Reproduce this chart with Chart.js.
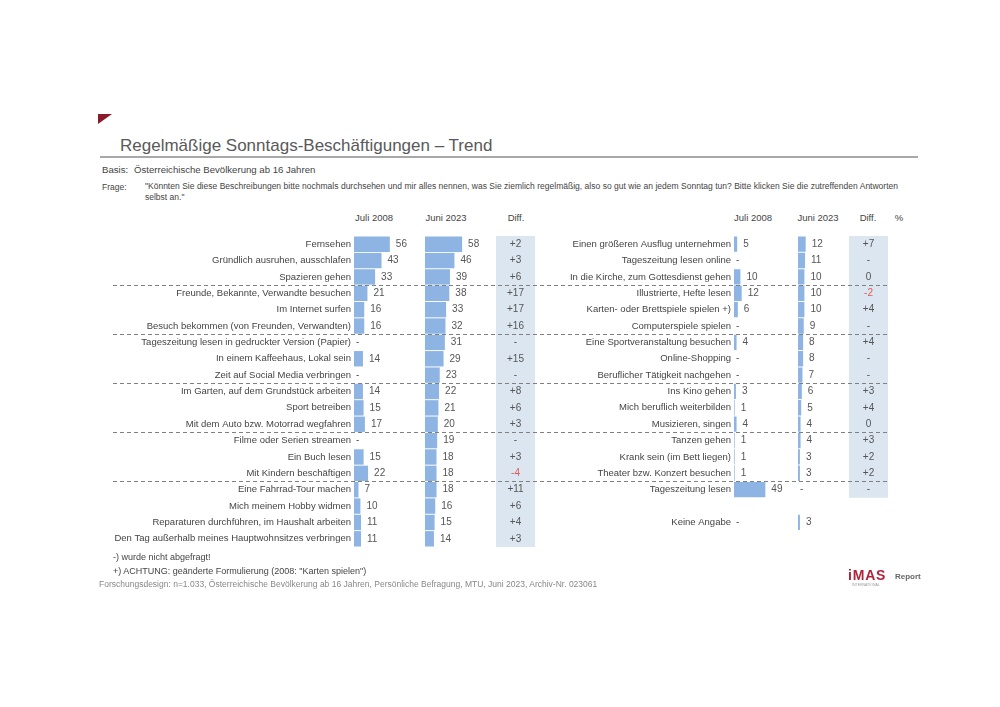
<!DOCTYPE html>
<html>
<head>
<meta charset="utf-8">
<script src="https://cdn.jsdelivr.net/npm/chart.js@4.4.1/dist/chart.umd.min.js"></script>
<style>
  body { margin: 0; width: 1000px; height: 707px; background: #fff; position: relative; overflow: hidden;
         font-family: "Liberation Sans", Arial, sans-serif; color: #444; }
  canvas { position: absolute; left: 0; top: 0; }
  .t { position: absolute; white-space: nowrap; }
  .c { transform: translate(-50%, -50%); }
  .m { transform: translateY(-50%); }
  .hd { font-size: 9.5px; color: #444; }
</style>
</head>
<body>

<svg class="t" style="left:0;top:0" width="130" height="130"><polygon points="98,114 112,114 98,124" fill="#8b1a2b"/></svg>
<div class="t m" style="left:120px;top:146px;font-size:17px;color:#595959">Regelmäßige Sonntags-Beschäftigungen – Trend</div>
<div class="t" style="left:100px;top:156px;width:818px;height:1.5px;background:#a8a8a8"></div>
<div class="t m" style="left:102px;top:169px;font-size:9.6px">Basis:</div>
<div class="t m" style="left:134px;top:169px;font-size:9.6px">Österreichische Bevölkerung ab 16 Jahren</div>
<div class="t m" style="left:102px;top:187px;font-size:8.5px">Frage:</div>
<div class="t" style="left:145px;top:181px;width:753px;font-size:8.5px;line-height:11px;white-space:normal">
  <div style="text-align:justify;text-align-last:justify">"Könnten Sie diese Beschreibungen bitte nochmals durchsehen und mir alles nennen, was Sie ziemlich regelmäßig, also so gut wie an jedem Sonntag tun? Bitte klicken Sie die zutreffenden Antworten</div>
  <div>selbst an."</div>
</div>

<div class="t c hd" style="left:374px;top:217px">Juli 2008</div>
<div class="t c hd" style="left:446px;top:217px">Juni 2023</div>
<div class="t c hd" style="left:516px;top:217px">Diff.</div>
<div class="t c hd" style="left:753px;top:217px">Juli 2008</div>
<div class="t c hd" style="left:818px;top:217px">Juni 2023</div>
<div class="t c hd" style="left:868px;top:217px">Diff.</div>
<div class="t c hd" style="left:899px;top:217px">%</div>

<canvas id="l08" width="1000" height="707"></canvas>
<canvas id="l23" width="1000" height="707"></canvas>
<canvas id="r08" width="1000" height="707"></canvas>
<canvas id="r23" width="1000" height="707"></canvas>

<div class="t m" style="left:113px;top:557px;font-size:9px">-) wurde nicht abgefragt!</div>
<div class="t m" style="left:113px;top:571px;font-size:9px">+) ACHTUNG: geänderte Formulierung (2008: "Karten spielen")</div>
<div class="t m" style="left:99px;top:584px;font-size:8.5px;color:#888">Forschungsdesign: n=1.033, Österreichische Bevölkerung ab 16 Jahren, Persönliche Befragung, MTU, Juni 2023, Archiv-Nr. 023061</div>
<div class="t m" style="left:848px;top:575px;font-size:14px;font-weight:bold;color:#b0243a;letter-spacing:0.8px">iMAS</div>
<div class="t m" style="left:895px;top:576px;font-size:8px;font-weight:bold;color:#666">Report</div>
<div class="t m" style="left:852px;top:585px;font-size:3.5px;color:#999">INTERNATIONAL</div>

<script>
// left panel
const leftLabels = [
  "Fernsehen", "Gründlich ausruhen, ausschlafen", "Spazieren gehen",
  "Freunde, Bekannte, Verwandte besuchen", "Im Internet surfen", "Besuch bekommen (von Freunden, Verwandten)",
  "Tageszeitung lesen in gedruckter Version (Papier)", "In einem Kaffeehaus, Lokal sein", "Zeit auf Social Media verbringen",
  "Im Garten, auf dem Grundstück arbeiten", "Sport betreiben", "Mit dem Auto bzw. Motorrad wegfahren",
  "Filme oder Serien streamen", "Ein Buch lesen", "Mit Kindern beschäftigen",
  "Eine Fahrrad-Tour machen", "Mich meinem Hobby widmen", "Reparaturen durchführen, im Haushalt arbeiten",
  "Den Tag außerhalb meines Hauptwohnsitzes verbringen"
];
const left2008 = [56, 43, 33, 21, 16, 16, null, 14, null, 14, 15, 17, null, 15, 22, 7, 10, 11, 11];
const left2023 = [58, 46, 39, 38, 33, 32, 31, 29, 23, 22, 21, 20, 19, 18, 18, 18, 16, 15, 14];
const leftDiff = [2, 3, 6, 17, 17, 16, null, 15, null, 8, 6, 3, null, 3, -4, 11, 6, 4, 3];

// right panel ("" = empty row)
const rightLabels = [
  "Einen größeren Ausflug unternehmen", "Tageszeitung lesen online", "In die Kirche, zum Gottesdienst gehen",
  "Illustrierte, Hefte lesen", "Karten- oder Brettspiele spielen +)", "Computerspiele spielen",
  "Eine Sportveranstaltung besuchen", "Online-Shopping", "Beruflicher Tätigkeit nachgehen",
  "Ins Kino gehen", "Mich beruflich weiterbilden", "Musizieren, singen",
  "Tanzen gehen", "Krank sein (im Bett liegen)", "Theater bzw. Konzert besuchen",
  "Tageszeitung lesen", "", "Keine Angabe"
];
const right2008 = [5, null, 10, 12, 6, null, 4, null, null, 3, 1, 4, 1, 1, 1, 49, null, null];
const right2023 = [12, 11, 10, 10, 10, 9, 8, 8, 7, 6, 5, 4, 4, 3, 3, null, null, 3];
const rightDiff = [7, null, 0, -2, 4, null, 4, null, null, 3, 4, 0, 3, 2, 2, null];

// rows after which a dashed separator is drawn
const groupBreaks = [3, 6, 9, 12, 15];

const FONT = "Liberation Sans, Arial, sans-serif";
const BAR = "#8db4e2";

function valueLabels(labels, values) {
  return {
    id: "vals",
    afterDatasetsDraw(chart) {
      const { ctx, scales: { x, y } } = chart;
      ctx.save();
      ctx.font = "10px " + FONT;
      ctx.fillStyle = "#555";
      ctx.textBaseline = "middle";
      values.forEach((v, i) => {
        if (labels[i] === "") return;
        const py = y.getPixelForValue(i);
        if (v == null) ctx.fillText("-", x.getPixelForValue(0) + 2, py);
        else ctx.fillText(String(v), x.getPixelForValue(v) + 6, py);
      });
      ctx.restore();
    }
  };
}

function diffColumn(diffs, cx, w) {
  return {
    id: "diff",
    beforeDatasetsDraw(chart) {
      const { ctx, scales: { y } } = chart;
      const step = y.getPixelForValue(1) - y.getPixelForValue(0);
      const top = y.getPixelForValue(0) - step / 2;
      const bottom = y.getPixelForValue(diffs.length - 1) + step / 2;
      ctx.save();
      ctx.fillStyle = "#dce6f0";
      ctx.fillRect(cx - w / 2, top, w, bottom - top);
      ctx.restore();
    },
    afterDatasetsDraw(chart) {
      const { ctx, scales: { y } } = chart;
      ctx.save();
      ctx.font = "10px " + FONT;
      ctx.textAlign = "center";
      ctx.textBaseline = "middle";
      diffs.forEach((d, i) => {
        ctx.fillStyle = d != null && d < 0 ? "#e05a55" : "#555";
        const txt = d == null ? "-" : d > 0 ? "+" + d : String(d);
        ctx.fillText(txt, cx, y.getPixelForValue(i));
      });
      ctx.restore();
    }
  };
}

const separators = {
  id: "sep",
  afterDraw(chart) {
    const { ctx, scales: { y } } = chart;
    ctx.save();
    ctx.strokeStyle = "#808080";
    ctx.lineWidth = 1;
    ctx.setLineDash([4, 3]);
    groupBreaks.forEach(b => {
      const py = Math.round((y.getPixelForValue(b - 1) + y.getPixelForValue(b)) / 2) + 0.5;
      ctx.beginPath();
      ctx.moveTo(113, py);
      ctx.lineTo(888, py);
      ctx.stroke();
    });
    ctx.restore();
  }
};

function barChart(id, labels, values, left, axisW, bottom, plugins) {
  return new Chart(document.getElementById(id), {
    type: "bar",
    data: {
      labels: labels,
      datasets: [{ data: values, backgroundColor: BAR, barPercentage: 0.94, categoryPercentage: 1 }]
    },
    options: {
      indexAxis: "y",
      responsive: false,
      animation: false,
      layout: { padding: { left: left - axisW, right: 1000 - (left + 64), top: 236, bottom: 707 - bottom } },
      plugins: { legend: { display: false }, tooltip: { enabled: false } },
      scales: {
        x: { display: false, min: 0, max: 100 },
        y: {
          display: axisW > 0,
          grid: { display: false, drawTicks: false },
          border: { display: false },
          ticks: { autoSkip: false, padding: 3, color: "#444", font: { family: FONT, size: 9.5 } },
          afterFit: s => { s.width = axisW; }
        }
      }
    },
    plugins: plugins
  });
}

barChart("l08", leftLabels, left2008, 354, 254, 547, [valueLabels(leftLabels, left2008)]);
barChart("l23", leftLabels, left2023, 425, 0, 547, [valueLabels(leftLabels, left2023), diffColumn(leftDiff, 515.5, 39)]);
barChart("r08", rightLabels, right2008, 734, 174, 530.5, [valueLabels(rightLabels, right2008)]);
barChart("r23", rightLabels, right2023, 798, 0, 530.5, [valueLabels(rightLabels, right2023), diffColumn(rightDiff, 868.5, 39), separators]);
</script>
</body>
</html>
